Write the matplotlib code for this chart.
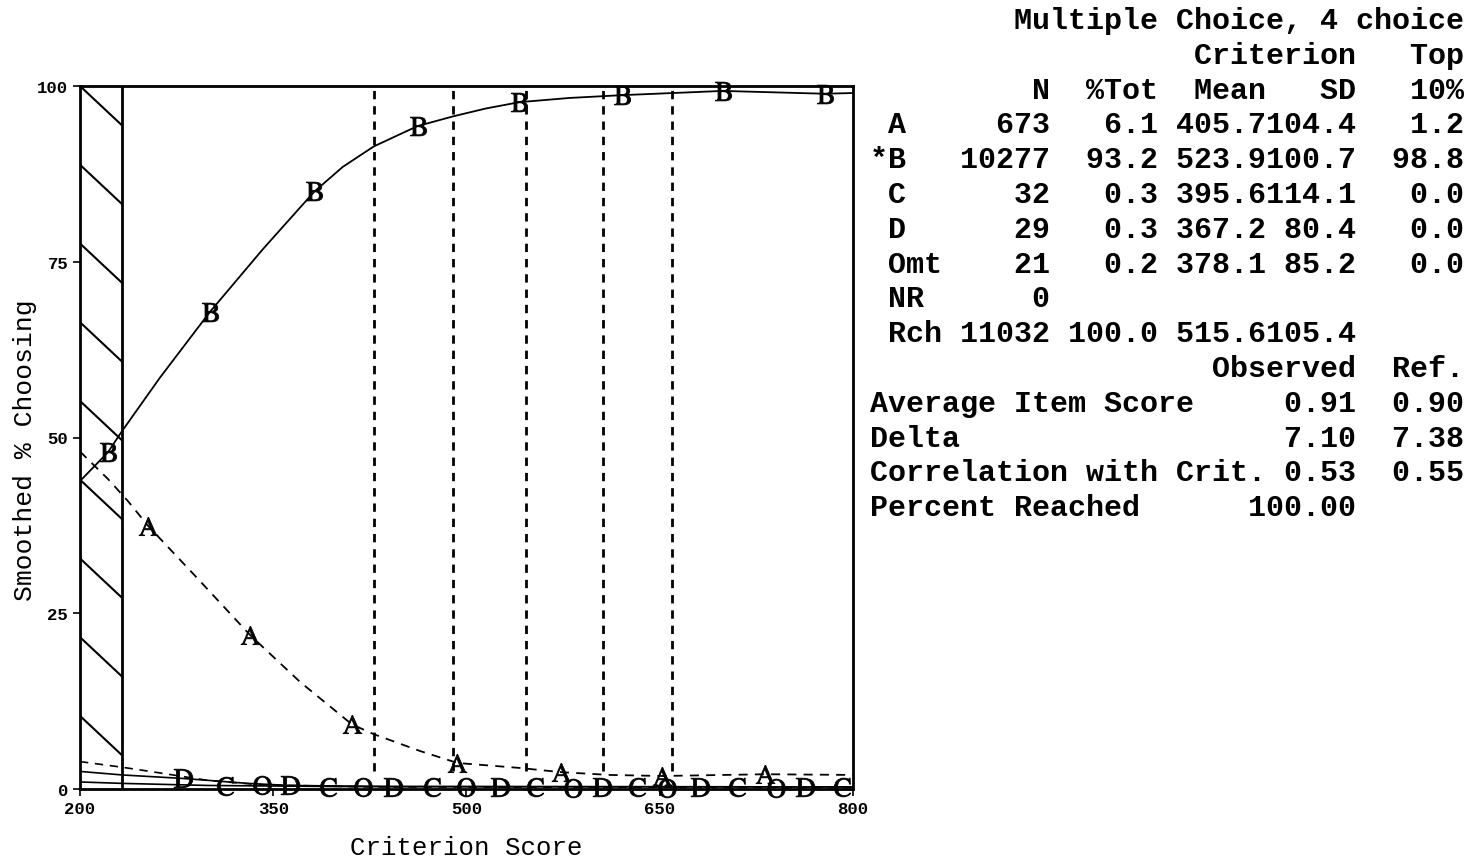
import matplotlib
matplotlib.use('Agg')
import matplotlib.pyplot as plt
import numpy as np

plt.rcParams['font.family'] = ['Liberation Mono', 'DejaVu Sans']
plt.rcParams['mathtext.fontset'] = 'stix'

# smoothed curves (criterion score -> % choosing)
score_B = [200, 221.7, 232.6, 262, 301, 342, 382, 404, 428, 462, 490, 515, 541, 580, 621, 699, 778, 800]
pct_B = [43.8, 47.9, 50.9, 58.5, 67.9, 76.8, 85.0, 88.5, 91.4, 94.3, 95.7, 96.8, 97.7, 98.3, 98.7, 99.3, 98.9, 99.0]
score_A = [200, 221.7, 237, 253, 291, 332, 371, 411, 428, 464, 493, 541, 573, 611, 652, 732, 800]
pct_A = [48.0, 44.1, 41.0, 37.4, 30.0, 21.9, 15.2, 9.2, 7.8, 5.4, 3.7, 3.0, 2.4, 2.0, 1.85, 2.1, 2.0]
score_C = [200, 232.6, 300, 400, 800]
pct_C = [1.0, 0.8, 0.5, 0.35, 0.3]
score_D = [200, 232.6, 280, 330, 363, 443, 800]
pct_D = [2.5, 2.0, 1.5, 0.8, 0.5, 0.35, 0.3]
score_O = [200, 232.6, 258, 300, 341, 420, 800]
pct_O = [3.9, 3.1, 2.4, 1.2, 0.6, 0.3, 0.2]

# letter marker positions
mark_B_x = [221.7, 301, 382, 462, 541, 621, 699, 778]
mark_B_y = [47.9, 67.9, 85.0, 94.3, 97.7, 98.7, 99.3, 98.9]
mark_A_x = [253, 332, 411, 493, 573, 652, 732]
mark_A_y = [37.4, 21.9, 9.2, 3.7, 2.4, 1.85, 2.1]
mark_C_x = [312.5, 392.5, 473, 553, 632, 710, 791.5]
mark_C_y = [0.45, 0.35, 0.3, 0.3, 0.3, 0.3, 0.3]
mark_D_x = [280, 363, 443, 526, 605, 681, 763]
mark_D_y = [1.5, 0.5, 0.35, 0.3, 0.3, 0.3, 0.3]
mark_O_x = [341, 420, 500, 583, 656, 740]
mark_O_y = [0.6, 0.3, 0.25, 0.2, 0.2, 0.2]

low_cut = 232.6
cut_lines = [428, 489.5, 546, 606, 659.5]

stats_rows = [
    (' A', 673, '6.1', '405.7', '104.4', '1.2'),
    ('*B', 10277, '93.2', '523.9', '100.7', '98.8'),
    (' C', 32, '0.3', '395.6', '114.1', '0.0'),
    (' D', 29, '0.3', '367.2', '80.4', '0.0'),
    (' Omt', 21, '0.2', '378.1', '85.2', '0.0'),
    (' NR', 0, '', '', '', ''),
    (' Rch', 11032, '100.0', '515.6', '105.4', ''),
]
item_rows = [
    ('Average Item Score', '0.91', '0.90'),
    ('Delta', '7.10', '7.38'),
    ('Correlation with Crit.', '0.53', '0.55'),
    ('Percent Reached', '100.00', ''),
]

fig = plt.figure(figsize=(14.79, 8.62), dpi=100)
ax = fig.add_axes([80/1479, 1 - 790/862, (853-80)/1479, (790-87)/862])

ax.plot(score_B, pct_B, color='k', lw=1.3)
ax.plot(score_A, pct_A, color='k', lw=1.3, ls=(0, (5, 4)))
ax.plot(score_C, pct_C, color='k', lw=1.2)
ax.plot(score_D, pct_D, color='k', lw=1.2)
ax.plot(score_O, pct_O, color='k', lw=1.2, ls=(0, (5, 4)))

for mx, my, lab in [(mark_B_x, mark_B_y, 'B'), (mark_A_x, mark_A_y, 'A'),
                    (mark_C_x, mark_C_y, 'C'), (mark_D_x, mark_D_y, 'D'),
                    (mark_O_x, mark_O_y, 'O')]:
    ax.plot(mx, my, ls='none', marker=r'$\mathrm{%s}$' % lab, ms=13.5,
            color='k', mew=0.6, clip_on=False)

# hatched low-score region
ax.axvline(low_cut, color='k', lw=2)
for y0 in np.arange(100, -6, -11.2):
    ax.plot([200, low_cut], [y0, y0 - 5.6], color='k', lw=1.5)

ax.vlines(cut_lines, 2.5, 100, colors='k', lw=2, linestyles=(0, (3, 2.5)))

ax.set_xlim(200, 800)
ax.set_ylim(0, 100)
ax.set_xticks([200, 350, 500, 650, 800])
ax.set_yticks([0, 25, 50, 75, 100])
ax.tick_params(direction='out', length=5, width=1.2, labelsize=12.5)
for t in ax.get_xticklabels() + ax.get_yticklabels():
    t.set_fontweight('bold')
for s in ax.spines.values():
    s.set_linewidth(2)

ax.set_xlabel('Criterion Score', fontsize=18.5, va='center')
ax.xaxis.set_label_coords(0.5, -(848 - 790) / 703)
ax.set_ylabel('Smoothed % Choosing', fontsize=19, va='center')
ax.yaxis.set_label_coords(-(80 - 25) / 773, (790 - 450) / 703)

# statistics block
lines = []
lines.append(' ' * 8 + 'Multiple Choice, 4 choice')
lines.append(' ' * 18 + 'Criterion' + '   Top')
lines.append(f"{'':<4}{'N':>6}{'%Tot':>6}{'Mean':>6}{'SD':>5}{'10%':>6}")
for lab, n, p, m, sd, top in stats_rows:
    lines.append(f"{lab:<4}{n:>6}{p:>6}{m:>6}{sd:>5}{top:>6}".rstrip())
lines.append(f"{'Observed':>27}{'Ref.':>6}")
for lab, obs, ref in item_rows:
    lines.append((lab.ljust(27 - len(obs)) + obs + ref.rjust(6)).rstrip())

y_top = 20
step = 34.8
for i, ln in enumerate(lines):
    fig.text(870/1479, 1 - (y_top + i*step + 9)/862, ln, fontsize=21.6,
             fontweight='bold', va='baseline', ha='left')

fig.savefig('out.png', dpi=100)
